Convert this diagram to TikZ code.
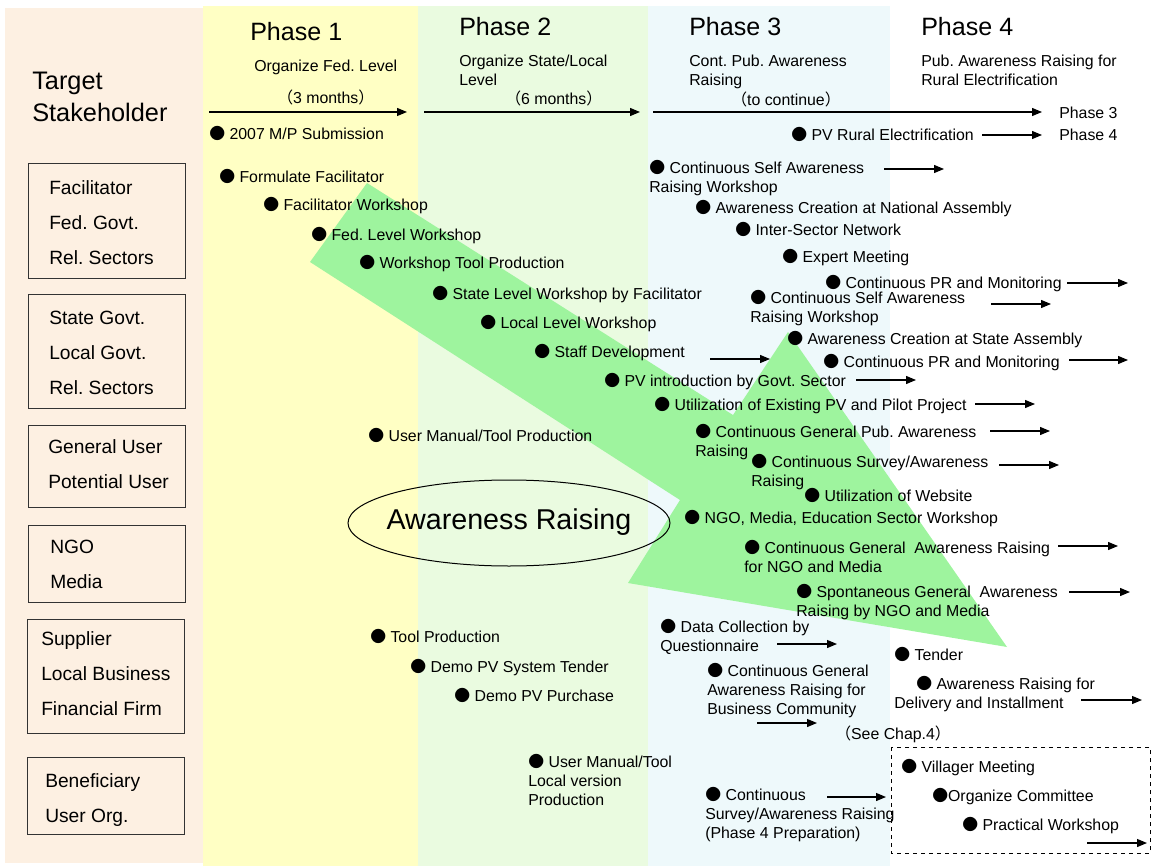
\documentclass[tikz,border=0pt]{standalone}
\usepackage{fontspec}
\setmainfont{Liberation Sans}
\newfontfamily\cjk{Noto Sans CJK JP}
\usetikzlibrary{arrows.meta}

\newcommand{\bul}{{\cjk ●}}
\newcommand{\lpar}{{\cjk （}}
\newcommand{\rpar}{{\cjk ）}}

\begin{document}
\frenchspacing
\begin{tikzpicture}[x=0.75pt,y=0.75pt,yscale=-1,xscale=1,
  item/.style={anchor=base west,inner sep=0pt,align=left,font=\fontsize{11.9pt}{14.25pt}\selectfont},
  phase/.style={anchor=base west,inner sep=0pt,font=\fontsize{18.8pt}{22pt}\selectfont},
  stake/.style={anchor=base west,inner sep=0pt,align=left,font=\fontsize{14.4pt}{25.9pt}\selectfont},
  boxline/.style={draw={rgb, 255:red, 51; green, 51; blue, 51 },line width=0.75pt},
  timeline/.style={-{Triangle[length=7.5pt,width=6pt]},line width=0.9pt}]
\useasboundingbox (0,0) rectangle (1152,866);

%Shape: Rectangle
\fill [fill={rgb, 255:red, 253; green, 240; blue, 226 }] (5,8) rectangle (203,863);
%Shape: Rectangle
\fill [fill={rgb, 255:red, 255; green, 255; blue, 196 }] (203,6) rectangle (418,866);
%Shape: Rectangle
\fill [fill={rgb, 255:red, 234; green, 251; blue, 224 }] (418,6) rectangle (648,866);
%Shape: Rectangle
\fill [fill={rgb, 255:red, 238; green, 249; blue, 251 }] (648,6) rectangle (890,866);
%Shape: Polygon
\fill [fill={rgb, 255:red, 158; green, 244; blue, 158 }] (310,262) -- (367,183) -- (733,415) -- (788,332) -- (1007,647) -- (628,583) -- (680,500) -- cycle;
%Shape: Ellipse
\draw [line width=0.75pt] (509,523) ellipse [x radius=120.75pt, y radius=32.25pt];
%Shape: Rectangle
\draw [dashed,line width=0.75pt] (891,747) rectangle (1150,853);
%Shape: Rectangle
\draw [boxline] (28.5,164) rectangle (185.5,278);
%Shape: Rectangle
\draw [boxline] (28.5,294) rectangle (185.5,408);
%Shape: Rectangle
\draw [boxline] (28.5,425) rectangle (185.5,507);
%Shape: Rectangle
\draw [boxline] (28.5,525) rectangle (185.5,602);
%Shape: Rectangle
\draw [boxline] (27,619) rectangle (184,733);
%Shape: Rectangle
\draw [boxline] (27,757) rectangle (184,834);

%Straight Lines
\draw [timeline] (209,112) -- (407,112);
\draw [timeline] (424,112) -- (640,112);
\draw [timeline] (653,112) -- (1042,112);
\draw [timeline] (982,135) -- (1042,135);
\draw [timeline] (884,169) -- (944,169);
\draw [timeline] (1067,283) -- (1128,283);
\draw [timeline] (991,304) -- (1051,304);
\draw [timeline] (1069,360) -- (1128,360);
\draw [timeline] (710,359) -- (770,359);
\draw [timeline] (856,380) -- (916,380);
\draw [timeline] (975,404) -- (1035,404);
\draw [timeline] (990,431) -- (1050,431);
\draw [timeline] (999,465) -- (1059,465);
\draw [timeline] (1058,546) -- (1118,546);
\draw [timeline] (1069,592) -- (1130,592);
\draw [timeline] (777,644) -- (837,644);
\draw [timeline] (757,723) -- (817,723);
\draw [timeline] (1081,700) -- (1142,700);
\draw [timeline] (827,797) -- (886,797);
\draw [timeline] (1087,843) -- (1147,843);

\draw (32,122) node [anchor=base west,inner sep=0pt,align=left,font=\fontsize{19pt}{24pt}\selectfont] (target) {Target\\Stakeholder};
\draw (49,264) node [stake] (fed) {Facilitator\\Fed. Govt.\\Rel. Sectors};
\draw (49,394) node [stake] (state) {State Govt.\\Local Govt.\\Rel. Sectors};
\draw (48,488) node [stake] (user) {General User\\Potential User};
\draw (50,588) node [stake] (ngo) {NGO\\Media};
\draw (41,715) node [stake] (supp) {Supplier\\Local Business\\Financial Firm};
\draw (45,822) node [stake] (benef) {Beneficiary\\User Org.};

\draw (250,41) node [phase] (ph1) {Phase 1};
\draw (459,36) node [phase] (ph2) {Phase 2};
\draw (689,36) node [phase] (ph3) {Phase 3};
\draw (921,36) node [phase] (ph4) {Phase 4};
\draw (254,71.5) node [item] (sub1) {Organize Fed. Level};
\draw (459,85.5) node [item] (sub2) {Organize State/Local\\Level};
\draw (689,85.5) node [item] (sub3) {Cont. Pub. Awareness\\Raising};
\draw (921,85.5) node [item] (sub4) {Pub. Awareness Raising for\\Rural Electrification};
\draw (277,103.5) node [item] (dur1) {\lpar 3 months\rpar};
\draw (505,104.5) node [item] (dur2) {\lpar 6 months\rpar};
\draw (731,105.5) node [item] (dur3) {\lpar to continue\rpar};
\draw (1059,118.5) node [item] (end3) {Phase 3};
\draw (1059,140.5) node [item] (end4) {Phase 4};
\draw (509,522.5) node [inner sep=0pt,font=\fontsize{21.5pt}{26pt}\selectfont] (aware) {Awareness Raising};

\draw (209,139.5) node [item] (mp) {\bul{} 2007 M/P Submission};
\draw (219,182.5) node [item] (formfac) {\bul{} Formulate Facilitator};
\draw (263,210.5) node [item] (facws) {\bul{} Facilitator Workshop};
\draw (311,240.5) node [item] (fedws) {\bul{} Fed. Level Workshop};
\draw (359,268.5) node [item] (wstool) {\bul{} Workshop Tool Production};
\draw (432,299.5) node [item] (statews) {\bul{} State Level Workshop by Facilitator};
\draw (480,328.5) node [item] (localws) {\bul{} Local Level Workshop};
\draw (534,357.5) node [item] (staff) {\bul{} Staff Development};
\draw (604,386.5) node [item] (pvintro) {\bul{} PV introduction by Govt. Sector};
\draw (654,410.5) node [item] (pilot) {\bul{} Utilization of Existing PV and Pilot Project};
\draw (695,456.5) node [item] (genpub) {\bul{} Continuous General Pub. Awareness\\Raising};
\draw (751,486.5) node [item] (survey) {\bul{} Continuous Survey/Awareness\\Raising};
\draw (804,501.5) node [item] (web) {\bul{} Utilization of Website};
\draw (684,523.5) node [item] (ngows) {\bul{} NGO, Media, Education Sector Workshop};
\draw (744,572.5) node [item] (ngogen) {\bul{} Continuous General\ \ Awareness Raising\\for NGO and Media};
\draw (796,616.5) node [item] (spont) {\bul{} Spontaneous General\ \ Awareness\\Raising by NGO and Media};
\draw (368,441.5) node [item] (manual) {\bul{} User Manual/Tool Production};
\draw (370,642.5) node [item] (tool) {\bul{} Tool Production};
\draw (410,672.5) node [item] (demot) {\bul{} Demo PV System Tender};
\draw (454,701.5) node [item] (demop) {\bul{} Demo PV Purchase};
\draw (528,805.5) node [item] (localman) {\bul{} User Manual/Tool\\Local version\\Production};
\draw (660,651.5) node [item] (datacol) {\bul{} Data Collection by\\Questionnaire};
\draw (707,714.5) node [item] (business) {\bul{} Continuous General\\Awareness Raising for\\Business Community};
\draw (705,838.5) node [item] (prep) {\bul{} Continuous\\Survey/Awareness Raising\\(Phase 4 Preparation)};
\draw (835,739.5) node [item] (chap) {\lpar See Chap.4\rpar};
\draw (894,660.5) node [item] (tender) {\bul{} Tender};
\draw (894,708.5) node [item] (delivery) {\hspace*{16.5pt}\bul{} Awareness Raising for\\Delivery and Installment};
\draw (901,772.5) node [item] (village) {\bul{} Villager Meeting};
\draw (932,801.5) node [item] (committee) {\bul{}Organize Committee};
\draw (962,830.5) node [item] (practical) {\bul{} Practical Workshop};
\draw (791,140.5) node [item] (rural) {\bul{} PV Rural Electrification};
\draw (649,192.5) node [item] (selfnat) {\bul{} Continuous Self Awareness\\Raising Workshop};
\draw (695,213.5) node [item] (national) {\bul{} Awareness Creation at National Assembly};
\draw (735,235.5) node [item] (inter) {\bul{} Inter-Sector Network};
\draw (782,262.5) node [item] (expert) {\bul{} Expert Meeting};
\draw (825,288.5) node [item] (prnat) {\bul{} Continuous PR and Monitoring};
\draw (750,322.5) node [item] (selfstate) {\bul{} Continuous Self Awareness\\Raising Workshop};
\draw (787,344.5) node [item] (stateas) {\bul{} Awareness Creation at State Assembly};
\draw (823,367.5) node [item] (prstate) {\bul{} Continuous PR and Monitoring};

\end{tikzpicture}
\end{document}
